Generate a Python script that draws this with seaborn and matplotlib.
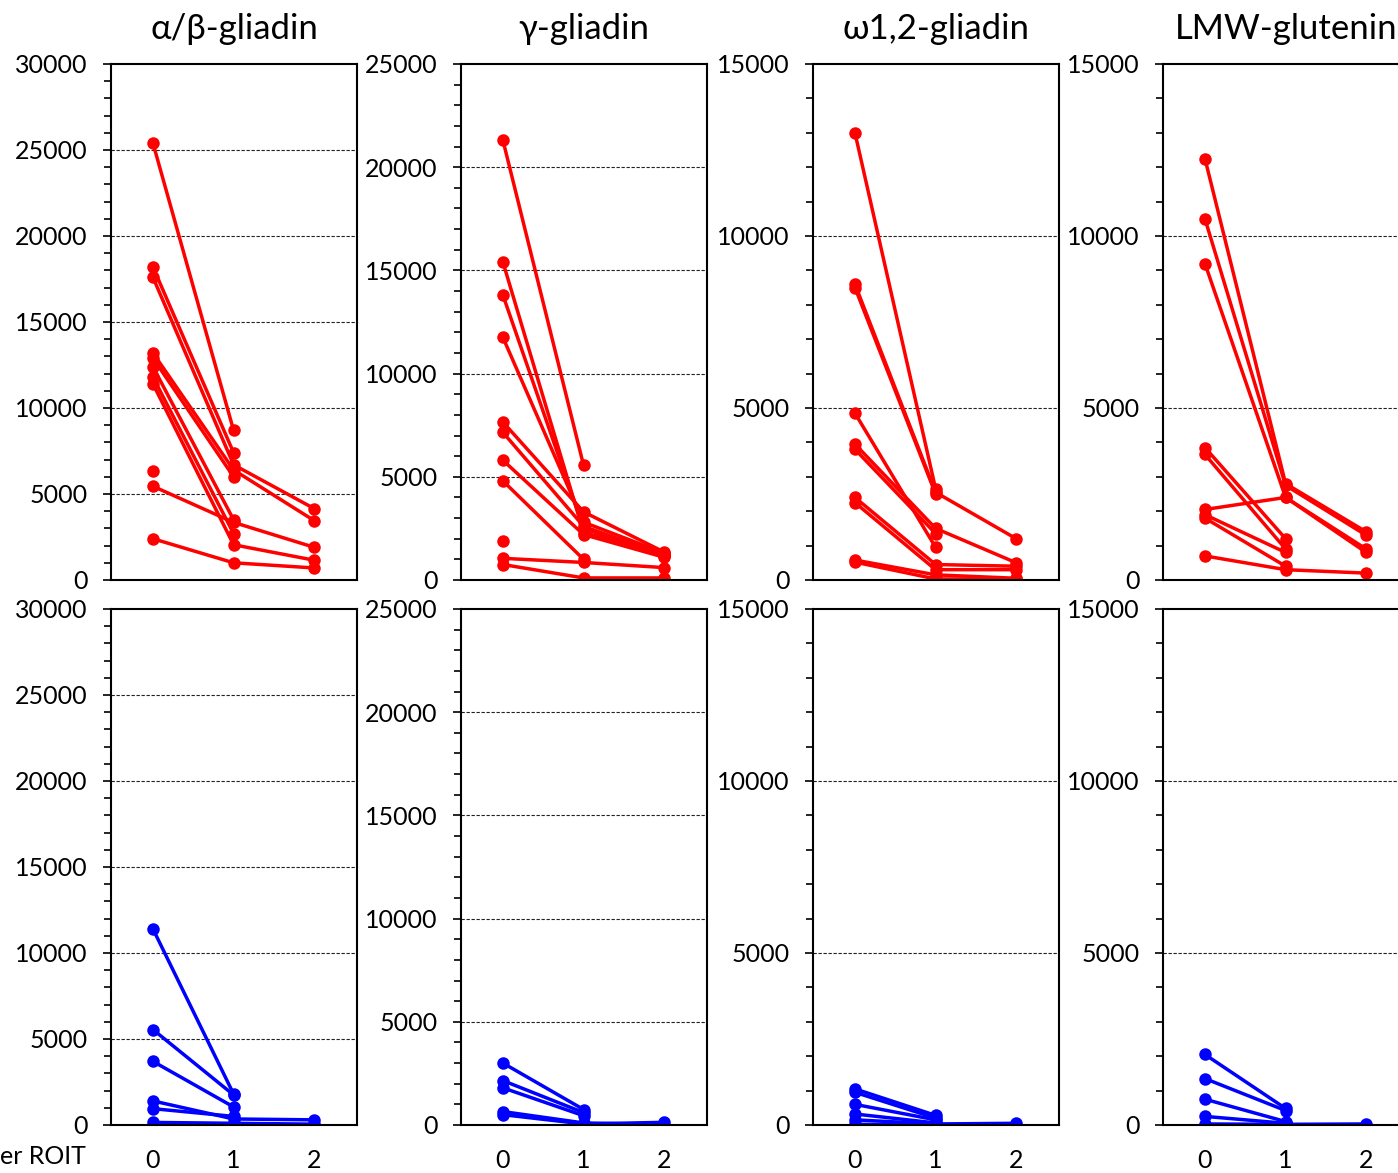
import numpy as np
import pandas as pd
import matplotlib
matplotlib.use("Agg")
import matplotlib.pyplot as plt
from matplotlib.ticker import MultipleLocator
import seaborn as sns

nan = np.nan

# ---------------- data ----------------
times = [0, 1, 2]
titles = ["α/β-gliadin", "γ-gliadin", "ω1,2-gliadin", "LMW-glutenin"]
y_max = [30000, 25000, 15000, 15000]
x_tick_labels = ["0", "1", "2"]
x_caption = "er ROIT"

# top row (red) : one row per subject, values at times 0,1,2
red_ab_gliadin = [
    [25400, 8700, nan],
    [18200, 7400, nan],
    [17600, 6700, 4150],
    [13200, 6400, 3450],
    [12900, 6000, nan],
    [12400, 3500, nan],
    [11800, 2700, nan],
    [11400, 2050, 1150],
    [6350, nan, nan],
    [5450, 3350, 1900],
    [2400, 1000, 700],
]
red_g_gliadin = [
    [21300, 5550, nan],
    [15400, 2300, 1250],
    [13800, 2500, 1150],
    [11750, 2800, 1300],
    [7650, 3300, 1350],
    [7150, 2600, 1200],
    [5800, 2200, 1100],
    [4800, 1000, nan],
    [1900, nan, nan],
    [1050, 850, 600],
    [750, 100, 100],
]
red_w_gliadin = [
    [13000, 2650, nan],
    [8600, 2550, 1200],
    [8500, 2500, nan],
    [4850, 950, nan],
    [3950, 1500, 500],
    [3800, 1350, nan],
    [2400, 450, 400],
    [2250, 300, 300],
    [580, 150, 50],
    [520, 30, 30],
]
red_lmw_glutenin = [
    [12250, 2800, 1400],
    [10500, 2750, 1300],
    [9200, 2400, 800],
    [3850, 1200, nan],
    [3650, 900, nan],
    [2050, 2400, 900],
    [1900, 800, nan],
    [1800, 400, nan],
    [700, 300, 200],
]

# bottom row (blue)
blue_ab_gliadin = [
    [11400, 1800, nan],
    [5550, 1750, nan],
    [3700, 1050, nan],
    [1400, 350, 300],
    [950, 500, nan],
    [150, 100, 50],
]
blue_g_gliadin = [
    [3000, 750, nan],
    [2150, 600, nan],
    [1800, 450, nan],
    [650, 100, 20],
    [500, 50, 130],
]
blue_w_gliadin = [
    [1050, 280, nan],
    [950, 200, nan],
    [600, 150, nan],
    [320, 60, nan],
    [150, 30, 50],
    [20, 10, 10],
]
blue_lmw_glutenin = [
    [2050, 480, nan],
    [1350, 420, nan],
    [750, 100, nan],
    [250, 50, nan],
    [30, 20, 30],
]

rows = [
    ("#ff0000", [red_ab_gliadin, red_g_gliadin, red_w_gliadin, red_lmw_glutenin]),
    ("#0000ff", [blue_ab_gliadin, blue_g_gliadin, blue_w_gliadin, blue_lmw_glutenin]),
]

# ---------------- style ----------------
sns.set_theme(style="white")
FONT = ["Lato", "Noto Sans", "DejaVu Sans"]
plt.rcParams["font.family"] = FONT

W, H = 1398, 1173
fig = plt.figure(figsize=(W / 100, H / 100), dpi=100)

lefts = [111, 461, 813, 1163]
ax_w = 246
row_box = [(64, 580), (609, 1125)]  # (top, bottom) in px

for r, (color, datasets) in enumerate(rows):
    top_px, bot_px = row_box[r]
    for c, data in enumerate(datasets):
        ax = fig.add_axes([lefts[c] / W, 1 - bot_px / H, ax_w / W, (bot_px - top_px) / H])
        recs = []
        for s, vals in enumerate(data):
            for t, v in zip(times, vals):
                if not np.isnan(v):
                    recs.append({"subject": s, "time": t, "value": v})
        df = pd.DataFrame(recs)
        sns.lineplot(data=df, x="time", y="value", units="subject", estimator=None,
                     color=color, marker="o", markersize=9, markeredgewidth=0,
                     markeredgecolor=color, linewidth=2.5, ax=ax, legend=False)
        ax.set_xlim(-0.52, 2.53)
        ax.set_ylim(0, y_max[c])
        ax.set_xlabel("")
        ax.set_ylabel("")
        ax.yaxis.set_major_locator(MultipleLocator(5000))
        ax.yaxis.set_minor_locator(MultipleLocator(1000))
        ax.set_yticks(np.arange(0, y_max[c] + 1, 5000))
        ax.tick_params(axis="y", which="major", direction="out", length=6, width=1.2,
                       color="black", left=True, pad=11, labelsize=18)
        ax.tick_params(axis="y", which="minor", direction="out", length=5, width=1.2,
                       color="black", left=True)
        ax.set_xticks(times)
        if r == 1:
            ax.set_xticklabels(x_tick_labels)
            ax.tick_params(axis="x", length=0, pad=17, labelsize=18)
        else:
            ax.set_xticklabels([])
            ax.tick_params(axis="x", length=0)
        for lab in ax.get_xticklabels() + ax.get_yticklabels():
            lab.set_family(FONT)
            lab.set_color("black")
        for y in np.arange(5000, y_max[c], 5000):
            ax.axhline(y, color="#222222", lw=0.8, ls=(0, (3, 1.5)), zorder=0)
        for sp in ax.spines.values():
            sp.set_visible(True)
            sp.set_color("black")
            sp.set_linewidth(1.5)
        ax.grid(False)
        if r == 0:
            ax.set_title(titles[c], fontsize=25, pad=18, family=FONT, color="black")

fig.text(0 / W, 1 - 1157 / H, x_caption, ha="left", va="center", fontsize=18,
         family=FONT, color="black")

fig.savefig("out.png", dpi=100)
